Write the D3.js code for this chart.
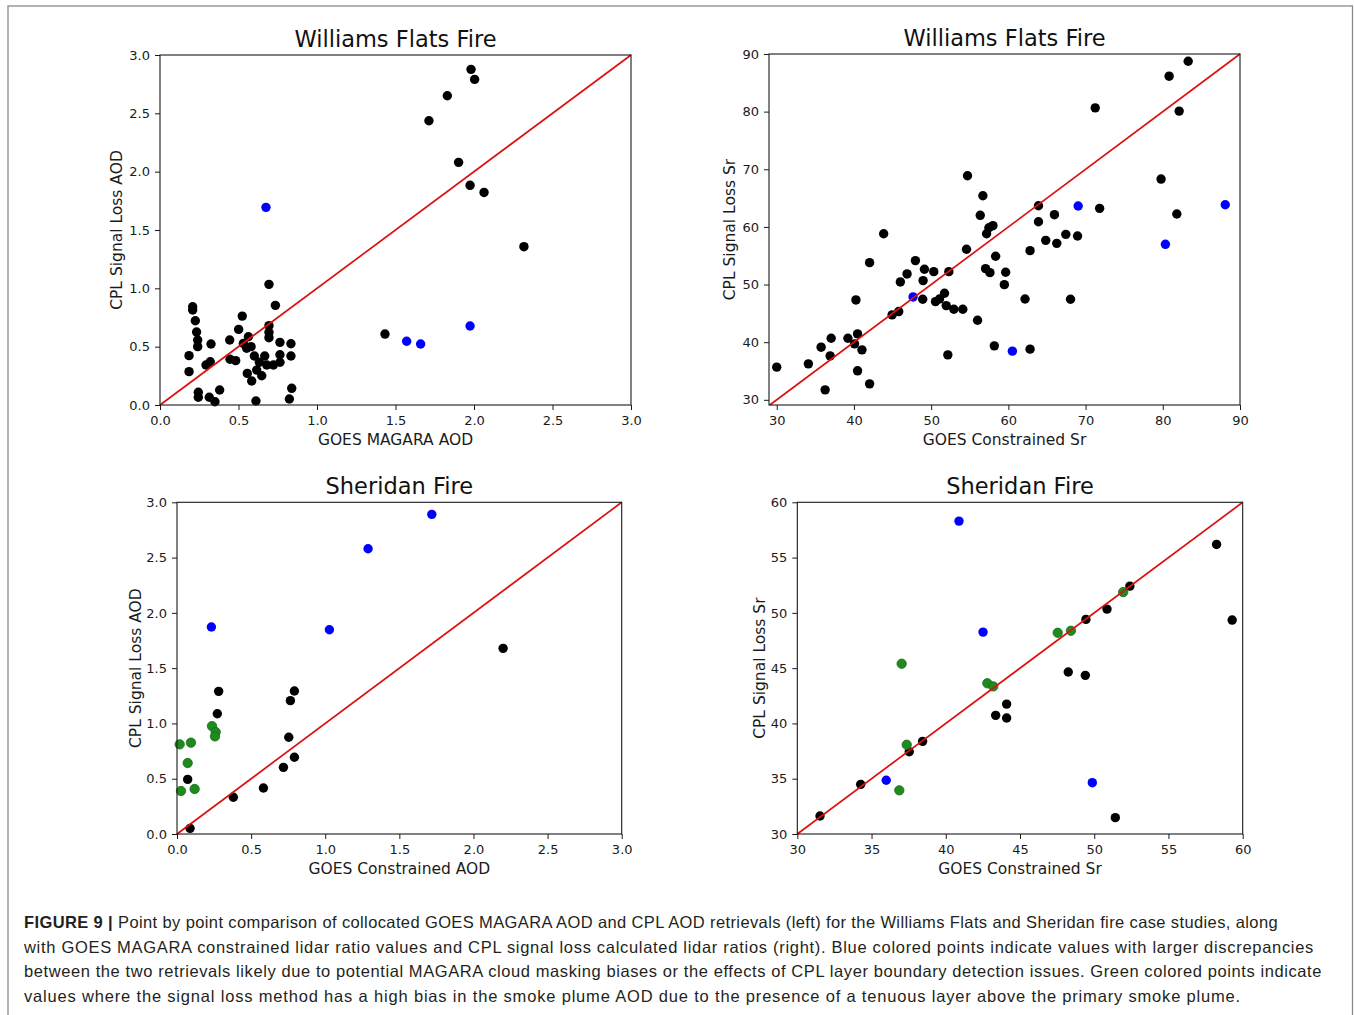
<!DOCTYPE html>
<html>
<head>
<meta charset="utf-8">
<script src="https://cdn.jsdelivr.net/npm/d3@7/dist/d3.min.js"></script>
<style>
  html, body { margin: 0; padding: 0; background: #fff; }
  svg { display: block; }
</style>
</head>
<body>
<script>
// ---------------- DATA ----------------
// Panel 1: Williams Flats Fire, GOES MAGARA AOD (x) vs CPL Signal Loss AOD (y)
const wfAodBlack = [
  [0.694,1.034],[0.735,0.854],[0.208,0.842],[0.208,0.814],[0.225,0.722],[0.524,0.762],
  [0.694,0.680],[0.694,0.623],[0.694,0.577],[0.501,0.648],[0.563,0.585],[0.233,0.626],
  [0.240,0.557],[0.240,0.500],[0.325,0.523],[0.444,0.557],[0.764,0.537],[0.834,0.525],
  [0.531,0.528],[0.580,0.500],[0.552,0.486],[0.185,0.423],[0.446,0.392],[0.482,0.380],
  [0.601,0.420],[0.667,0.420],[0.764,0.431],[0.834,0.420],[0.320,0.371],[0.293,0.343],
  [0.633,0.366],[0.680,0.343],[0.722,0.343],[0.764,0.366],[0.185,0.286],[0.616,0.300],
  [0.556,0.271],[0.648,0.251],[0.584,0.206],[0.380,0.129],[0.244,0.109],[0.244,0.066],
  [0.314,0.066],[0.350,0.028],[0.611,0.034],[0.824,0.051],[0.839,0.143],[1.433,0.608],
  [1.981,2.877],[2.004,2.791],[1.830,2.651],[1.713,2.436],[1.902,2.080],[1.975,1.883],
  [2.064,1.822],[2.318,1.357]
];
const wfAodBlue = [[0.675,1.694],[1.571,0.546],[1.660,0.523],[1.975,0.677]];

// Panel 2: Williams Flats Fire, GOES Constrained Sr (x) vs CPL Signal Loss Sr (y)
const wfSrBlack = [
  [30.0,35.67],[34.1,36.24],[36.27,31.73],[35.75,39.13],[36.92,37.63],[37.05,40.69],
  [39.22,40.69],[40.08,39.71],[40.47,41.44],[41.04,38.67],[40.47,35.03],[42.03,32.77],
  [40.26,47.33],[42.03,53.80],[43.85,58.82],[44.94,44.73],[45.8,45.31],[46.01,50.45],
  [46.88,51.84],[47.96,54.15],[48.91,47.45],[48.96,50.68],[49.13,52.65],[50.34,52.24],
  [50.56,47.04],[51.08,47.50],[51.73,48.49],[51.95,46.35],[52.29,52.24],[52.16,37.80],
  [52.94,45.72],[54.10,45.72],[54.58,56.12],[54.71,68.87],[56.01,43.81],[56.36,62.01],
  [56.70,65.41],[57.18,58.82],[57.48,59.86],[58.0,60.21],[58.35,54.90],[57.05,52.76],
  [57.61,52.06],[58.18,39.36],[59.48,49.98],[59.65,52.13],[62.81,38.79],[62.16,47.50],
  [62.81,55.88],[63.9,63.67],[63.9,60.90],[64.84,57.67],[65.97,62.12],[66.27,57.15],
  [67.44,58.71],[68.96,58.42],[68.05,47.45],[71.25,80.66],[71.82,63.22],[79.78,68.30],
  [81.82,62.24],[80.82,86.15],[82.12,80.09],[83.29,88.75]
];
const wfSrBlue = [[47.66,47.85],[60.52,38.44],[69.04,63.62],[80.34,56.98],[88.09,63.85]];

// Panel 3: Sheridan Fire, GOES Constrained AOD (x) vs CPL Signal Loss AOD (y)
const shAodBlack = [
  [0.281,1.290],[0.272,1.088],[0.792,1.293],[0.765,1.206],[0.754,0.875],[0.792,0.694],
  [0.718,0.603],[0.583,0.416],[0.380,0.332],[0.072,0.494],[0.088,0.051],[2.200,1.679]
];
const shAodBlue = [[0.232,1.872],[1.028,1.847],[1.289,2.580],[1.719,2.891]];
const shAodGreen = [
  [0.236,0.976],[0.261,0.922],[0.256,0.883],[0.018,0.811],[0.094,0.826],[0.072,0.642],
  [0.027,0.389],[0.119,0.407]
];

// Panel 4: Sheridan Fire, GOES Constrained Sr (x) vs CPL Signal Loss Sr (y)
const shSrBlack = [
  [44.10,41.75],[43.36,40.73],[44.10,40.49],[38.44,38.38],[37.54,37.44],[34.27,34.49],
  [31.53,31.63],[58.24,56.19],[59.29,49.35],[52.40,52.42],[50.86,50.34],[49.44,49.41],
  [48.25,44.65],[49.40,44.35],[51.42,31.48]
];
const shSrBlue = [[40.89,58.30],[42.51,48.26],[35.99,34.86],[49.87,34.64]];
const shSrGreen = [
  [37.03,45.40],[42.80,43.63],[43.20,43.35],[37.37,38.07],[36.87,33.95],[51.95,51.88],
  [47.54,48.20],[48.43,48.38]
];

// Tick values
const aodTicks = [0.0,0.5,1.0,1.5,2.0,2.5,3.0];
const wfSrTicks = [30,40,50,60,70,80,90];
const shSrTicks = [30,35,40,45,50,55,60];

// Text
const titles = ["Williams Flats Fire","Williams Flats Fire","Sheridan Fire","Sheridan Fire"];
const xLabels = ["GOES MAGARA AOD","GOES Constrained Sr","GOES Constrained AOD","GOES Constrained Sr"];
const yLabels = ["CPL Signal Loss AOD","CPL Signal Loss Sr","CPL Signal Loss AOD","CPL Signal Loss Sr"];
const captionBold = "FIGURE 9 |";
const captionLines = [
  " Point by point comparison of collocated GOES MAGARA AOD and CPL AOD retrievals (left) for the Williams Flats and Sheridan fire case studies, along",
  "with GOES MAGARA constrained lidar ratio values and CPL signal loss calculated lidar ratios (right). Blue colored points indicate values with larger discrepancies",
  "between the two retrievals likely due to potential MAGARA cloud masking biases or the effects of CPL layer boundary detection issues. Green colored points indicate",
  "values where the signal loss method has a high bias in the smoke plume AOD due to the presence of a tenuous layer above the primary smoke plume."
];

// ---------------- DRAWING ----------------
const W = 1354, H = 1015;
const svg = d3.select("body").append("svg").attr("width", W).attr("height", H);
svg.append("rect").attr("x",0).attr("y",0).attr("width",W).attr("height",H).attr("fill","#fff");
svg.append("rect").attr("x",8).attr("y",6).attr("width",1344.5).attr("height",1030)
  .attr("fill","none").attr("stroke","#8a8a8a").attr("stroke-width",1.3);

const FONT = "'DejaVu Sans', sans-serif";
const COL = { black: "#000000", blue: "#0000ff", green: "#1f8b1f" };

const panels = [
  { left:160, right:631, top:55, bottom:405, xd:[0,3], yd:[0,3], xt:aodTicks, yt:aodTicks, fmt:d3.format(".1f"),
    series:[[wfAodBlack,"black"],[wfAodBlue,"blue"]], ylx:116 },
  { left:769, right:1240, top:54, bottom:405, xd:[29,90], yd:[29.1,90], xt:wfSrTicks, yt:wfSrTicks, fmt:d3.format("d"),
    series:[[wfSrBlack,"black"],[wfSrBlue,"blue"]], ylx:729 },
  { left:177, right:621.7, top:502.3, bottom:834, xd:[0,3], yd:[0,3], xt:aodTicks, yt:aodTicks, fmt:d3.format(".1f"),
    series:[[shAodBlack,"black"],[shAodGreen,"green"],[shAodBlue,"blue"]], ylx:135 },
  { left:797.3, right:1242.7, top:502.3, bottom:834, xd:[30,60], yd:[30,60], xt:shSrTicks, yt:shSrTicks, fmt:d3.format("d"),
    series:[[shSrBlack,"black"],[shSrGreen,"green"],[shSrBlue,"blue"]], ylx:759 }
];

panels.forEach((p, i) => {
  const x = d3.scaleLinear().domain(p.xd).range([p.left, p.right]);
  const y = d3.scaleLinear().domain(p.yd).range([p.bottom, p.top]);
  const g = svg.append("g");

  // points
  p.series.forEach(([data, c]) => {
    g.append("g").selectAll("circle").data(data).join("circle")
      .attr("cx", d => x(d[0])).attr("cy", d => y(d[1])).attr("r", 4.7)
      .attr("fill", COL[c])
      .attr("stroke", c === "green" ? "#176f17" : "none")
      .attr("stroke-width", 0.8);
  });

  // 1:1 line
  const lo = Math.max(p.xd[0], p.yd[0]), hi = Math.min(p.xd[1], p.yd[1]);
  g.append("line")
    .attr("x1", x(lo)).attr("y1", y(lo)).attr("x2", x(hi)).attr("y2", y(hi))
    .attr("stroke", "#dd1010").attr("stroke-width", 1.7);

  // frame
  g.append("rect").attr("x", p.left).attr("y", p.top)
    .attr("width", p.right - p.left).attr("height", p.bottom - p.top)
    .attr("fill", "none").attr("stroke", "#1a1a1a").attr("stroke-width", 1.1);

  // axes
  const xa = g.append("g").attr("transform", `translate(0,${p.bottom})`)
    .call(d3.axisBottom(x).tickValues(p.xt).tickFormat(p.fmt).tickSize(5).tickPadding(5.5));
  const ya = g.append("g").attr("transform", `translate(${p.left},0)`)
    .call(d3.axisLeft(y).tickValues(p.yt).tickFormat(p.fmt).tickSize(5).tickPadding(5));
  [xa, ya].forEach(a => {
    a.select(".domain").remove();
    a.selectAll("line").attr("stroke", "#1a1a1a").attr("stroke-width", 1);
    a.selectAll("text").attr("fill", "#1a1a1a").style("font-family", FONT).style("font-size", "13px");
  });

  // title
  g.append("text").attr("x", (p.left + p.right) / 2).attr("y", p.top - 8.5)
    .attr("text-anchor", "middle").style("font-family", FONT).style("font-size", "22.5px")
    .attr("fill", "#111").text(titles[i]);
  // x label
  g.append("text").attr("x", (p.left + p.right) / 2).attr("y", p.bottom + 39.5)
    .attr("text-anchor", "middle").style("font-family", FONT).style("font-size", "15.5px")
    .attr("fill", "#1a1a1a").text(xLabels[i]);
  // y label
  const cy = (p.top + p.bottom) / 2;
  g.append("text").attr("transform", `translate(${p.ylx + 5.7},${cy}) rotate(-90)`)
    .attr("text-anchor", "middle").style("font-family", FONT).style("font-size", "15.5px")
    .attr("fill", "#1a1a1a").text(yLabels[i]);
});

// caption
const capX = 24;
const capBase = [928, 952.5, 977, 1001.5];
const capRight = [1278, 1314, 1322, 1241];
captionLines.forEach((line, i) => {
  const t = svg.append("text").attr("x", capX).attr("y", capBase[i])
    .style("font-family", "'Liberation Sans', Arial, sans-serif").style("font-size", "16.5px")
    .attr("fill", "#231f20");
  if (i === 0) {
    t.append("tspan").style("font-weight", "bold").text(captionBold);
  }
  t.append("tspan").text(line);
  const natural = t.node().getComputedTextLength();
  const chars = (i === 0 ? captionBold.length : 0) + line.length;
  const ls = (capRight[i] - capX - natural) / chars;
  t.style("letter-spacing", ls + "px");
});
</script>
</body>
</html>
